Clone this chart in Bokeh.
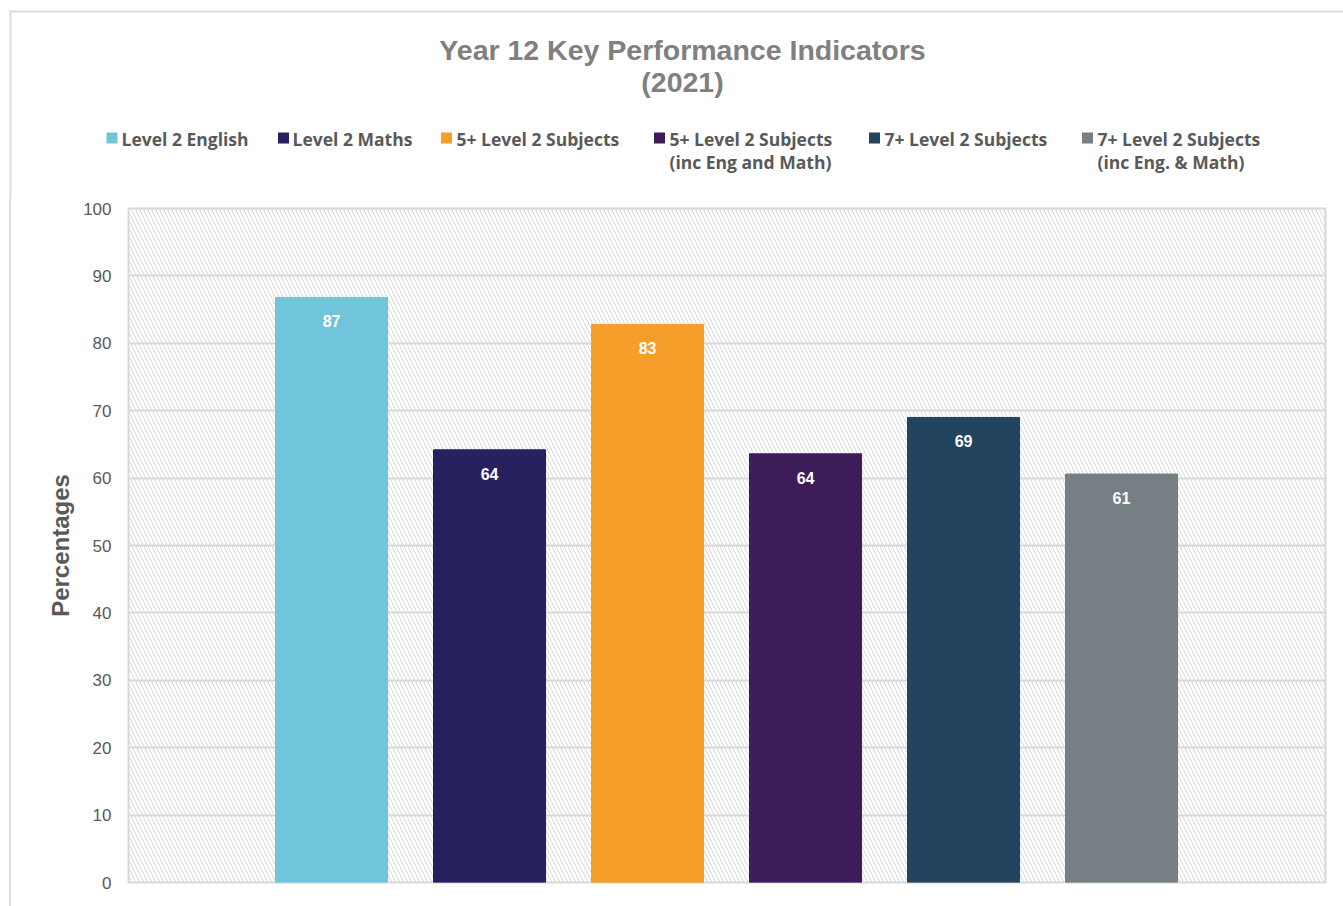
from bokeh.plotting import figure
from bokeh.layouts import column, row, Spacer
from bokeh.models import (ColumnDataSource, Range1d, FixedTicker, BoxAnnotation, LabelSet, Div)
from bokeh.core.properties import value
from bokeh.embed import file_html
from bokeh.resources import INLINE

# ---- data ----
categories = ["Level 2 English", "Level 2 Maths", "5+ Level 2 Subjects",
              "5+ Level 2 Subjects\n(inc Eng and Math)", "7+ Level 2 Subjects",
              "7+ Level 2 Subjects\n(inc Eng. & Math)"]
values = [86.8, 64.2, 82.8, 63.6, 69.0, 60.6]
colors = ["#71C5DA", "#27205F", "#F59E29", "#3E1C5A", "#22445F", "#767F83"]
y_ticks = [0, 10, 20, 30, 40, 50, 60, 70, 80, 90, 100]
title_lines = ["Year 12 Key Performance Indicators", "(2021)"]
y_label = "Percentages"

GRID = "#D9D9D9"
BORDER = "#DDDDDD"
TXT = "#595959"
W = 1343
TOP_H = 198
MAIN_H = 906 - TOP_H

# ---------------- header (title + legend) ----------------
top = figure(width=W, height=TOP_H, output_backend="svg", toolbar_location=None,
             x_range=Range1d(0, W), y_range=Range1d(TOP_H, 0),
             x_axis_location=None, y_axis_location=None, title=None,
             min_border=0)
top.outline_line_color = None
top.grid.visible = False
top.background_fill_color = "white"
top.border_fill_color = "white"

# outer chart border (top + left parts)
top.segment(x0=[10, 10], y0=[11, 10], x1=[W, 10], y1=[11, TOP_H + 2],
            line_color=BORDER, line_width=2)

top.text(x=[682, 682], y=[49, 81], text=title_lines,
         text_align="center", text_baseline="middle",
         text_font=value("Liberation Sans"), text_font_style="bold",
         text_font_size="28.5px", text_color="#808080")

leg_sq_x = [111.5, 283, 446, 659, 874, 1087]
leg_tx_x = [121, 292, 456, 669, 884, 1097]
first_lines = [c.split("\n")[0] for c in categories]
second = [(leg_tx_x[i], c.split("\n")[1]) for i, c in enumerate(categories) if "\n" in c]

top.rect(x=leg_sq_x, y=[137.5] * len(colors), width=11, height=11,
         fill_color=colors, line_color=None)
top.text(x=leg_tx_x, y=[138] * len(first_lines), text=first_lines,
         text_align="left", text_baseline="middle",
         text_font=value("Open Sans"), text_font_style="bold",
         text_font_size="17.5px", text_color=TXT)
top.text(x=[s[0] for s in second], y=[161] * len(second), text=[s[1] for s in second],
         text_align="left", text_baseline="middle",
         text_font=value("Open Sans"), text_font_style="bold",
         text_font_size="17.5px", text_color=TXT)

# ---------------- left border (continues below the header) ----------------
edge = Div(text="", width=11, height=MAIN_H, margin=0,
           styles={"background": "linear-gradient(to right, white 0px, white 9px, "
                                 + BORDER + " 9px, " + BORDER + " 11px)"})

# ---------------- main chart ----------------
positions = list(range(1, len(values) + 1))
source = ColumnDataSource(dict(
    x=positions, top=values, color=colors,
    label=[f"{v:.0f}" for v in values],
))

p = figure(width=W - 11, height=MAIN_H, output_backend="svg", toolbar_location=None,
           x_range=Range1d(-0.285, 7.291), y_range=Range1d(0, 100),
           x_axis_location=None, title=None,
           min_border_left=117, min_border_right=18, min_border_top=208 - TOP_H,
           min_border_bottom=24)
p.background_fill_color = "white"
p.border_fill_color = "white"
p.outline_line_color = GRID
p.outline_line_width = 2

hatch = BoxAnnotation(fill_color=None, line_color=None, hatch_pattern="\\",
                      hatch_color="#D8D8D8", hatch_scale=8, hatch_weight=1,
                      level="image")
p.add_layout(hatch)

p.xgrid.visible = False
p.ygrid.grid_line_color = GRID
p.ygrid.grid_line_width = 2
p.ygrid.ticker = FixedTicker(ticks=y_ticks)

ax = p.yaxis[0]
ax.ticker = FixedTicker(ticks=y_ticks)
ax.axis_line_color = None
ax.major_tick_line_color = None
ax.minor_tick_line_color = None
ax.major_label_standoff = 11
ax.major_label_text_font = "Liberation Sans"
ax.major_label_text_font_size = "17px"
ax.major_label_text_color = TXT
ax.axis_label = y_label
ax.axis_label_text_font = "Liberation Sans"
ax.axis_label_text_font_style = "bold"
ax.axis_label_text_font_size = "24px"
ax.axis_label_text_color = TXT
ax.axis_label_standoff = 6

p.vbar(x="x", top="top", width=0.709, color="color", source=source)

lbls = LabelSet(x="x", y="top", text="label", source=source, y_offset=-24,
                text_align="center", text_baseline="middle",
                text_color="white", text_font=value("Liberation Sans"),
                text_font_style="bold", text_font_size="16px")
p.add_layout(lbls)

layout = column(top, row(edge, p, spacing=0), spacing=0)
open("out.html", "w").write(file_html(layout, INLINE))
